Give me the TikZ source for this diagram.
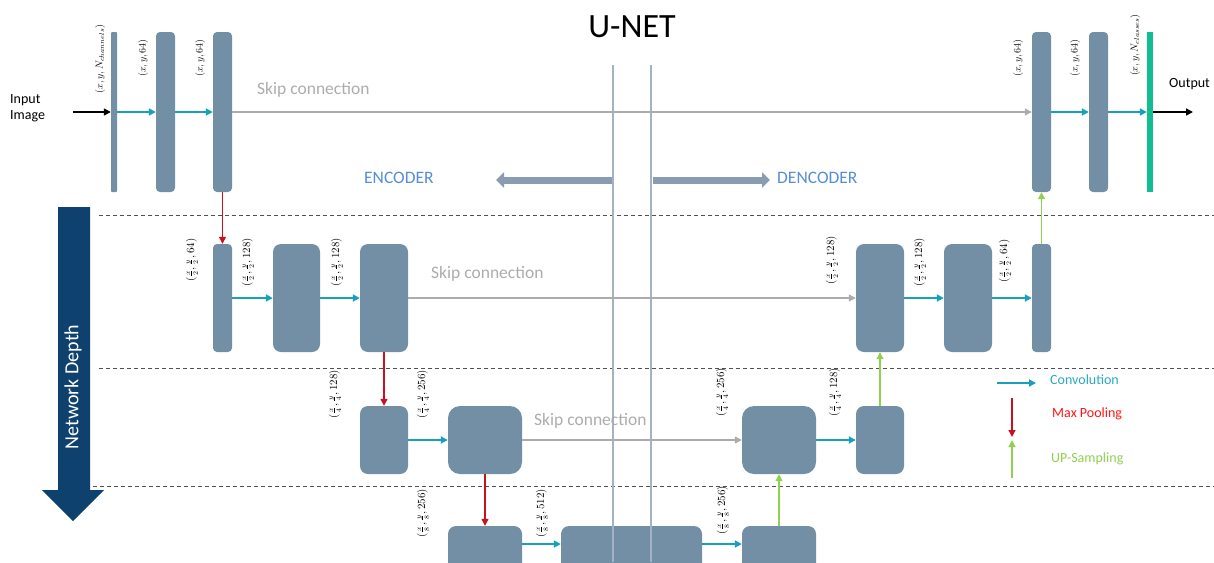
\documentclass[tikz,border=0pt]{standalone}
\usepackage{fontspec}
\setmainfont{Carlito}
\usetikzlibrary{arrows.meta}
\definecolor{blkc}{RGB}{114,143,165}
\definecolor{convc}{RGB}{23,160,185}
\definecolor{poolc}{RGB}{200,16,30}
\definecolor{upc}{RGB}{146,208,80}
\definecolor{outc}{RGB}{17,190,145}
\definecolor{skipc}{RGB}{172,172,172}
\definecolor{enctxt}{RGB}{85,142,213}
\definecolor{depthc}{RGB}{14,65,110}
\definecolor{vlinec}{RGB}{165,178,196}
\definecolor{thickc}{RGB}{138,156,178}
\definecolor{dashc}{RGB}{80,80,80}
\definecolor{legconv}{RGB}{40,170,195}
\definecolor{legpool}{RGB}{255,20,20}
\newcommand\ufrlab[3]{$(\frac{x}{#1},\frac{y}{#2},#3)$}
\begin{document}
\begin{tikzpicture}[x=1pt,y=-1pt,
  blkst/.style={fill=blkc,draw=none,inner sep=0pt,rounded corners=#1},
  blkst/.default=4pt,
  lab/.style={rotate=90,inner sep=0pt,font=\fontsize{10}{11}\selectfont},
  flab/.style={rotate=90,inner sep=0pt,font=\fontsize{10.5}{12}\selectfont},
  tip/.style={-{Triangle[length=7pt,width=7pt]}},
  conv/.style={tip,draw=convc,line width=1.8pt},
  pool/.style={tip,draw=poolc,line width=1.3pt},
  upst/.style={tip,draw=upc,line width=1.2pt},
  skip/.style={tip,draw=skipc,line width=1.2pt},
  blackarr/.style={tip,draw=black,line width=1.5pt},
  skiptxt/.style={text=skipc,font=\fontsize{17.5}{20}\selectfont,anchor=west,inner sep=0pt},
  dline/.style={draw=dashc,line width=1pt,dash pattern=on 4pt off 3pt},
  thickarr/.style={draw=thickc,line width=7pt,-{Triangle[length=8pt,width=15pt]}},
  vline/.style={draw=vlinec,line width=1.2pt},
  enct/.style={text=enctxt,font=\fontsize{17.5}{20}\selectfont,anchor=west,inner sep=0pt},
  legt/.style={font=\fontsize{14}{16}\selectfont,anchor=west,inner sep=0pt}
]
\useasboundingbox (0,0) rectangle (1214,562);
\clip (0,0) rectangle (1214,562);

% title
\node[font=\fontsize{34}{40}\selectfont,inner sep=0pt] (title) at (632,27) {U-NET};

% dashed level separators
\coordinate (d1s) at (99,215);  \coordinate (d1e) at (1214,215);
\coordinate (d2s) at (99,368);  \coordinate (d2e) at (1214,368);
\coordinate (d3s) at (93,486);  \coordinate (d3e) at (1214,486);
\draw[dline] (d1s) -- (d1e);
\draw[dline] (d2s) -- (d2e);
\draw[dline] (d3s) -- (d3e);

% network depth arrow
\fill[depthc] (58,207) -- (90,207) -- (90,490) -- (104,490) -- (73,521) -- (42,490) -- (58,490) -- cycle;
\node[rotate=90,text=white,font=\fontsize{20}{24}\selectfont,inner sep=0pt] (depth) at (73,387) {Network Depth};

% level 1
\node[blkst=1pt,minimum width=6pt,minimum height=160pt] (e1a) at (114,112) {};
\node[blkst,minimum width=19pt,minimum height=160pt] (e1b) at (165.5,112) {};
\node[blkst,minimum width=19pt,minimum height=160pt] (e1c) at (222.5,112) {};
\node[blkst,minimum width=19pt,minimum height=160pt] (d1a) at (1041.5,112) {};
\node[blkst,minimum width=19pt,minimum height=160pt] (d1b) at (1098.5,112) {};
\node[fill=outc,inner sep=0pt,minimum width=6pt,minimum height=160pt] (outb) at (1150,112) {};

% level 2
\node[blkst,minimum width=19pt,minimum height=108pt] (e2a) at (222.5,298) {};
\node[blkst=8pt,minimum width=47pt,minimum height=108pt] (e2b) at (296.5,298) {};
\node[blkst=8pt,minimum width=48pt,minimum height=108pt] (e2c) at (384,298) {};
\node[blkst=8pt,minimum width=48pt,minimum height=108pt] (d2a) at (880,298) {};
\node[blkst=8pt,minimum width=48pt,minimum height=108pt] (d2b) at (968,298) {};
\node[blkst,minimum width=19pt,minimum height=108pt] (d2c) at (1041.5,298) {};

% level 3
\node[blkst=8pt,minimum width=48pt,minimum height=68pt] (e3a) at (384,440) {};
\node[blkst=12pt,minimum width=74pt,minimum height=68pt] (e3b) at (485,440) {};
\node[blkst=12pt,minimum width=74pt,minimum height=68pt] (d3a) at (779,440) {};
\node[blkst=8pt,minimum width=48pt,minimum height=68pt] (d3b) at (880,440) {};

% level 4 (cut off at the bottom)
\node[blkst=8pt,minimum width=74pt,minimum height=72pt] (e4a) at (485,562) {};
\node[blkst=8pt,minimum width=141pt,minimum height=72pt] (bott) at (631.5,562) {};
\node[blkst=8pt,minimum width=74pt,minimum height=72pt] (d4a) at (779,562) {};

% centre vertical lines
\coordinate (v1t) at (613,65); \coordinate (v1b) at (613,562);
\coordinate (v2t) at (651,65); \coordinate (v2b) at (651,562);
\draw[vline] (v1t) -- (v1b);
\draw[vline] (v2t) -- (v2b);

% encoder / decoder arrows
\coordinate (encS) at (612,180); \coordinate (encE) at (496,180);
\coordinate (decS) at (653,180); \coordinate (decE) at (770,180);
\draw[thickarr] (encS) -- (encE);
\draw[thickarr] (decS) -- (decE);
\node[enct] (enc) at (364,178) {ENCODER};
\node[enct] (dec) at (777,178) {DENCODER};

% input / output
\node[legt,align=left,font=\fontsize{14}{16}\selectfont] (inp) at (10,108) {Input\\Image};
\coordinate (inS) at (73,112);
\draw[blackarr] (inS) -- (e1a.west);
\coordinate (outE) at (1193,112);
\draw[blackarr] (outb.east) -- (outE);
\node[legt] (outt) at (1169,84) {Output};

% convolutions
\draw[conv] (e1a.east) -- (e1b.west);
\draw[conv] (e1b.east) -- (e1c.west);
\draw[conv] (d1a.east) -- (d1b.west);
\draw[conv] (d1b.east) -- (outb.west);
\draw[conv] (e2a.east) -- (e2b.west);
\draw[conv] (e2b.east) -- (e2c.west);
\draw[conv] (d2a.east) -- (d2b.west);
\draw[conv] (d2b.east) -- (d2c.west);
\draw[conv] (e3a.east) -- (e3b.west);
\draw[conv] (d3a.east) -- (d3b.west);
\draw[conv] ([yshift=18pt]e4a.east) -- ([yshift=18pt]bott.west);
\draw[conv] ([yshift=18pt]bott.east) -- ([yshift=18pt]d4a.west);

% skip connections
\draw[skip] (e1c.east) -- (d1a.west);
\draw[skip] (e2c.east) -- (d2a.west);
\draw[skip] (e3b.east) -- (d3a.west);
\node[skiptxt] (sk1) at (257,90) {Skip connection};
\node[skiptxt] (sk2) at (431,274) {Skip connection};
\node[skiptxt] (sk3) at (534,421) {Skip connection};

% max pooling
\draw[pool] (e1c.south) -- (e2a.north);
\draw[pool] (e2c.south) -- (e3a.north);
\draw[pool] (e3b.south) -- (e4a.north);

% up-sampling
\draw[upst] (d2c.north) -- (d1a.south);
\draw[upst] (d3b.north) -- (d2a.south);
\draw[upst] (d4a.north) -- (d3a.south);

% size labels
\node[lab] (l1a) at (100,59) {$(x,y,N_{channels})$};
\node[lab] (l1b) at (143,58) {$(x,y,64)$};
\node[lab] (l1c) at (200,58) {$(x,y,64)$};
\node[lab] (l1d) at (1018,58) {$(x,y,64)$};
\node[lab] (l1e) at (1075,58) {$(x,y,64)$};
\node[lab] (l1f) at (1135,45) {$(x,y,N_{classes})$};

\node[flab] (l2a) at (192,260) {\ufrlab{2}{2}{64}};
\node[flab] (l2b) at (248,262) {\ufrlab{2}{2}{128}};
\node[flab] (l2c) at (337,262) {\ufrlab{2}{2}{128}};
\node[flab] (l2d) at (832,260) {\ufrlab{2}{2}{128}};
\node[flab] (l2e) at (920,262) {\ufrlab{2}{2}{128}};
\node[flab] (l2f) at (1005,261) {\ufrlab{2}{2}{64}};

\node[flab] (l3a) at (335,394) {\ufrlab{4}{4}{128}};
\node[flab] (l3b) at (423,394) {\ufrlab{4}{4}{256}};
\node[flab] (l3c) at (722,392) {\ufrlab{4}{4}{256}};
\node[flab] (l3d) at (835,392) {\ufrlab{4}{4}{128}};

\node[flab] (l4a) at (423,513) {\ufrlab{8}{8}{256}};
\node[flab] (l4b) at (542,513) {\ufrlab{8}{8}{512}};
\node[flab] (l4c) at (723,510) {\ufrlab{8}{8}{256}};

% legend
\coordinate (lc1) at (997,383); \coordinate (lc2) at (1036,383);
\draw[conv] (lc1) -- (lc2);
\node[legt,text=legconv] (lgc) at (1050,380) {Convolution};
\coordinate (lp1) at (1012,398); \coordinate (lp2) at (1012,437);
\draw[pool] (lp1) -- (lp2);
\node[legt,text=legpool] (lgp) at (1052,414) {Max Pooling};
\coordinate (lu1) at (1012,478); \coordinate (lu2) at (1012,440);
\draw[upst] (lu1) -- (lu2);
\node[legt,text=upc] (lgu) at (1051,459) {UP-Sampling};
\end{tikzpicture}
\end{document}
